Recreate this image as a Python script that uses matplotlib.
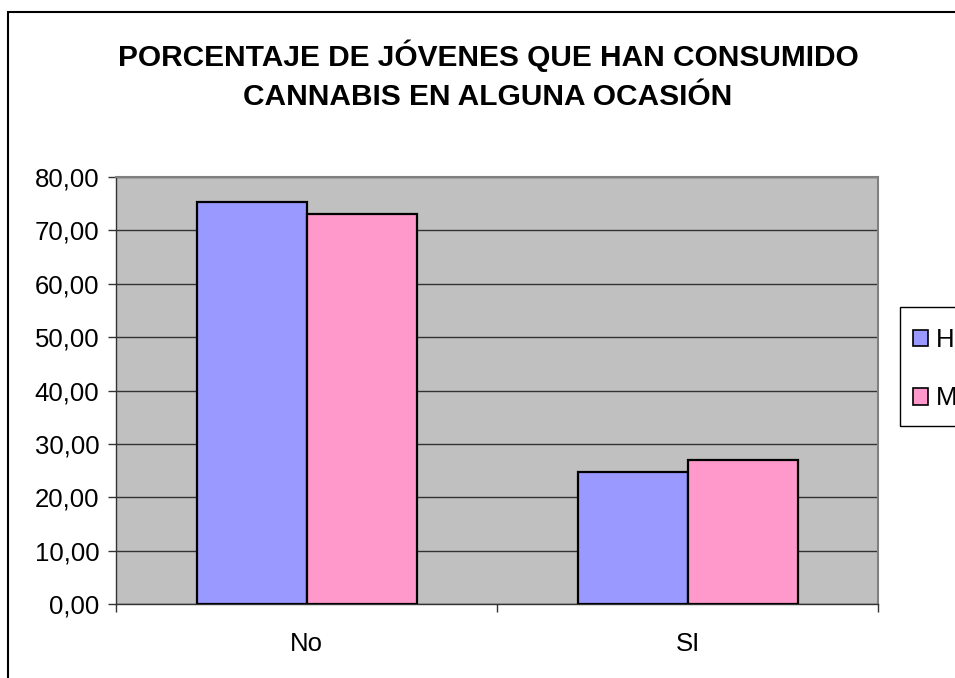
import matplotlib
matplotlib.use("Agg")
import matplotlib.pyplot as plt
import numpy as np
from matplotlib.patches import Rectangle, Patch

plt.rcParams['font.family'] = ['Liberation Sans', 'DejaVu Sans']

categories = ["No", "SI"]
series_names = ["H", "M"]
values_H = [75.3, 24.7]
values_M = [73.0, 27.0]
yticks = [0, 10, 20, 30, 40, 50, 60, 70, 80]
title = "PORCENTAJE DE JÓVENES QUE HAN CONSUMIDO\nCANNABIS EN ALGUNA OCASIÓN"

colors = ["#9999FF", "#FF99CC"]

W, H = 955, 678
fig = plt.figure(figsize=(W / 100, H / 100), dpi=100)
ax = fig.add_axes([116 / W, 1 - 604 / H, (878 - 116) / W, (604 - 177) / H])
ax.set_facecolor("#C0C0C0")

x = np.arange(len(categories))
bw = 110 / 381
ax.bar(x - bw / 2, values_H, bw, color=colors[0], edgecolor="black", linewidth=1.6, zorder=3)
ax.bar(x + bw / 2, values_M, bw, color=colors[1], edgecolor="black", linewidth=1.6, zorder=3)

ax.set_xlim(-0.5, len(categories) - 0.5)
ax.set_ylim(0, 80)
ax.set_yticks(yticks)
ax.set_yticklabels([f"{v:.2f}".replace(".", ",") for v in yticks], fontsize=18.5)
ax.yaxis.grid(True, color="#333333", linewidth=1.0, zorder=1)
ax.set_axisbelow(True)

# category ticks between groups, labels centered
ax.set_xticks(np.arange(-0.5, len(categories), 1.0))
ax.set_xticklabels([])
ax.set_xticks(x, minor=True)
ax.set_xticklabels(categories, minor=True, fontsize=18.5)
ax.tick_params(axis="x", which="minor", length=0, pad=20)
ax.tick_params(axis="x", which="major", length=6, width=1, color="#333333")
ax.tick_params(axis="y", length=6, width=1, color="#333333", pad=6)

for s in ["top", "right"]:
    ax.spines[s].set_color("#808080")
    ax.spines[s].set_linewidth(1.5)
for s in ["left", "bottom"]:
    ax.spines[s].set_color("#333333")
    ax.spines[s].set_linewidth(1.0)

fig.text(488 / W, 1 - 75 / H, title, ha="center", va="center", fontsize=21.5,
         fontweight="bold", linespacing=1.5)

# outer chart border
fig.patches.append(Rectangle((8 / W, -0.1), 1.2, 1.1 - 12 / H, transform=fig.transFigure,
                             fill=False, edgecolor="black", linewidth=1.5, clip_on=False))

# legend frame
fig.patches.append(Rectangle((900 / W, 1 - 426 / H), 0.2, (426 - 307) / H, transform=fig.transFigure,
                             fill=False, edgecolor="black", linewidth=1.0, clip_on=False))
handles = [Patch(facecolor=c, edgecolor="black", linewidth=1.2) for c in colors]
fig.legend(handles, series_names, loc="upper left", bbox_to_anchor=(913 / W, 1 - 328 / H),
           frameon=False, fontsize=18.5, handlelength=0.6, handleheight=0.6,
           handletextpad=0.3, labelspacing=1.34, borderpad=0, borderaxespad=0)

fig.savefig("out.png", dpi=100)
